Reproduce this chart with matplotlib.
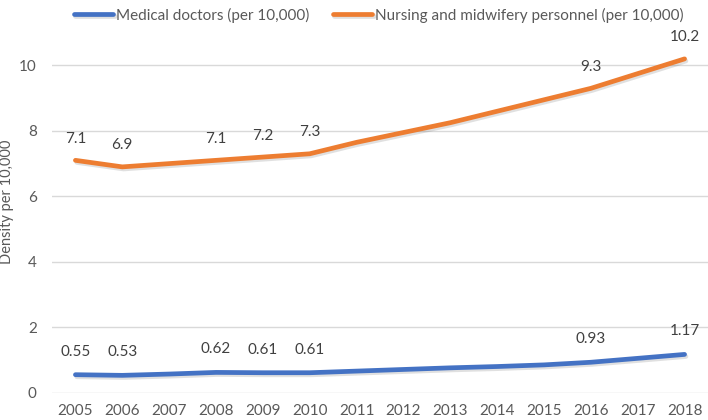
import matplotlib
matplotlib.use('Agg')
import matplotlib.pyplot as plt
import matplotlib.patheffects as pe

plt.rcParams['font.family'] = ['Lato', 'DejaVu Sans']

years = ['2005', '2006', '2007', '2008', '2009', '2010', '2011', '2012',
         '2013', '2014', '2015', '2016', '2017', '2018']
doctors = [0.55, 0.53, 0.57, 0.62, 0.61, 0.61, 0.66, 0.71, 0.76, 0.80, 0.85, 0.93, 1.05, 1.17]
nurses = [7.1, 6.9, 7.0, 7.1, 7.2, 7.3, 7.65, 7.95, 8.25, 8.6, 8.95, 9.3, 9.75, 10.2]

# only some points carry a data label in the original
labelled = [0, 1, 3, 4, 5, 11, 13]
doctor_labels = ['0.55', '0.53', '0.62', '0.61', '0.61', '0.93', '1.17']
nurse_labels = ['7.1', '6.9', '7.1', '7.2', '7.3', '9.3', '10.2']

blue = '#4472C4'
orange = '#ED7D31'
txt = '#404040'

fig = plt.figure(figsize=(7.08, 4.2), dpi=100)
ax = fig.add_axes([52/708, 27.3/420, 656/708, 360/420])

shadow = [pe.SimpleLineShadow(offset=(1.0, -1.5), alpha=0.15, shadow_color='#333333'), pe.Normal()]
x = list(range(len(years)))
ax.plot(x, doctors, color=blue, lw=3.4, solid_capstyle='round',
        label='Medical doctors (per 10,000)', path_effects=shadow)
ax.plot(x, nurses, color=orange, lw=3.4, solid_capstyle='round',
        label='Nursing and midwifery personnel (per 10,000)', path_effects=shadow)

for i, lab in zip(labelled, doctor_labels):
    ax.annotate(lab, (i, doctors[i]), xytext=(0, 16.5), textcoords='offset points',
                ha='center', va='center', fontsize=11, color=txt)
for i, lab in zip(labelled, nurse_labels):
    ax.annotate(lab, (i, nurses[i]), xytext=(0, 15.5), textcoords='offset points',
                ha='center', va='center', fontsize=11, color=txt)

ax.set_xlim(-0.5, 13.5)
ax.set_ylim(0, 11)
ax.set_xticks(x)
ax.set_xticklabels(years)
ax.set_yticks([0, 2, 4, 6, 8, 10])
ax.tick_params(length=0, labelsize=11, labelcolor='#595959')
ax.tick_params(axis='x', pad=8)
ax.tick_params(axis='y', pad=11)
ax.grid(axis='y', color='#D9D9D9', lw=1)
ax.set_axisbelow(True)
for s in ax.spines.values():
    s.set_visible(False)
ax.set_ylabel('Density per 10,000', fontsize=10.5, color='#595959')
ax.yaxis.set_label_coords(-0.058, 0.53)

fig.legend(loc='upper center', bbox_to_anchor=(0.535, 1.015), ncol=2, frameon=False,
           fontsize=11, handlelength=2.6, columnspacing=1.5, handletextpad=0.2,
           labelcolor='#595959')

fig.savefig('out.png', dpi=100)
